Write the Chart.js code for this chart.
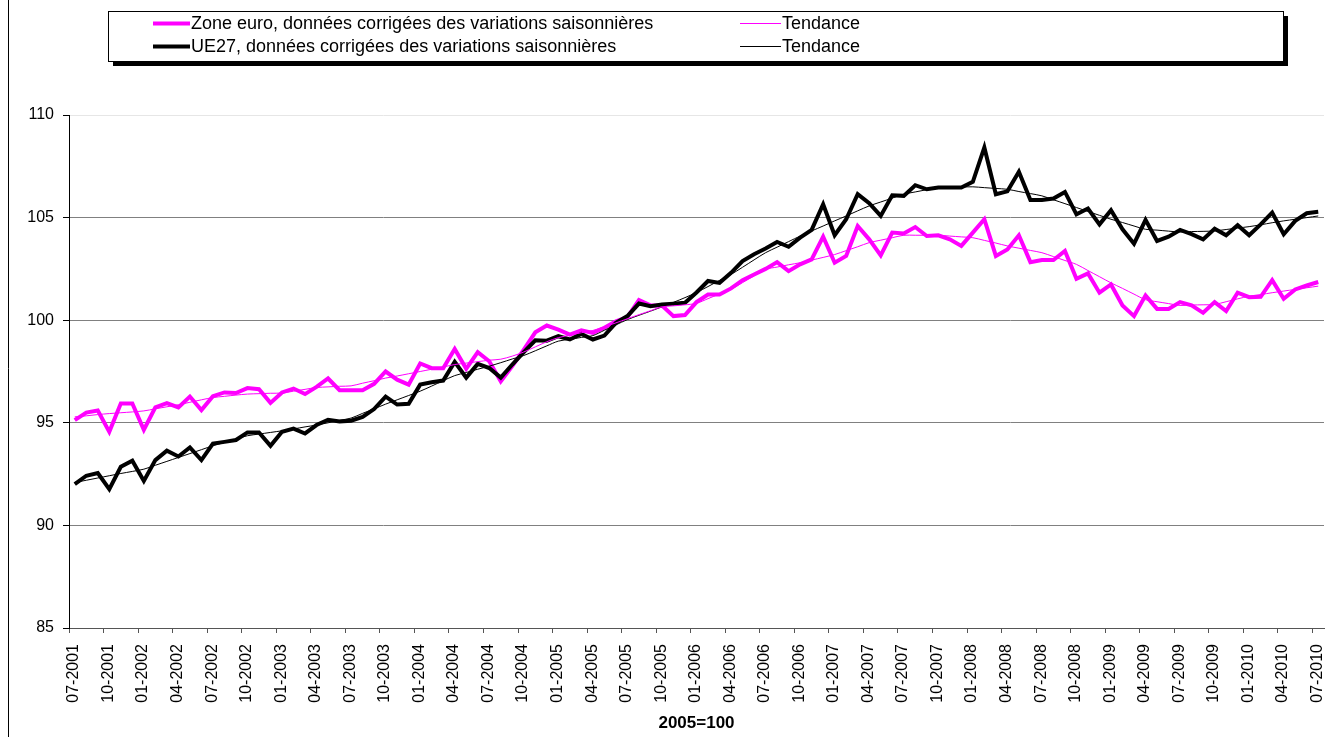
<!DOCTYPE html>
<html>
<head>
<meta charset="utf-8">
<title>Zone euro / UE27</title>
<script src="https://cdn.jsdelivr.net/npm/chart.js@4.4.1/dist/chart.umd.min.js"></script>
<style>
  html, body { margin: 0; padding: 0; background: #fff; }
  canvas { display: block; }
</style>
</head>
<body>
<canvas id="chart" width="1339" height="737"></canvas>
<script>
// tick labels, one every 3 months (07-2001 .. 07-2010)
const tickLabels = [
  '07-2001','10-2001','01-2002','04-2002','07-2002','10-2002','01-2003','04-2003','07-2003','10-2003',
  '01-2004','04-2004','07-2004','10-2004','01-2005','04-2005','07-2005','10-2005','01-2006','04-2006',
  '07-2006','10-2006','01-2007','04-2007','07-2007','10-2007','01-2008','04-2008','07-2008','10-2008',
  '01-2009','04-2009','07-2009','10-2009','01-2010','04-2010','07-2010'
];

// monthly values, 07-2001 .. 07-2010
const zoneEuro = [
  95.13, 95.50, 95.60, 94.56, 95.94, 95.94, 94.66, 95.75, 95.96, 95.75, 96.28, 95.62,
  96.30, 96.48, 96.45, 96.69, 96.64, 95.97, 96.48, 96.67, 96.40, 96.75, 97.16, 96.59,
  96.59, 96.59, 96.90, 97.50, 97.10, 96.86, 97.89, 97.66, 97.66, 98.60, 97.63, 98.44,
  98.00, 97.02, 97.76, 98.57, 99.41, 99.74, 99.54, 99.30, 99.51, 99.38, 99.63, 99.95,
  100.15, 100.98, 100.72, 100.72, 100.20, 100.25, 100.88, 101.25, 101.25, 101.55, 101.95, 102.23,
  102.50, 102.83, 102.39, 102.72, 102.96, 104.07, 102.80, 103.13, 104.59, 103.94, 103.16, 104.27,
  104.23, 104.54, 104.10, 104.14, 103.94, 103.62, 104.27, 104.92, 103.13, 103.45, 104.14, 102.83,
  102.93, 102.93, 103.37, 102.02, 102.28, 101.34, 101.74, 100.72, 100.20, 101.21, 100.55, 100.55,
  100.88, 100.72, 100.36, 100.88, 100.44, 101.34, 101.12, 101.14, 101.95, 101.04, 101.50, 101.69,
  101.86
];
const ue27 = [
  92.01, 92.42, 92.55, 91.77, 92.86, 93.15, 92.17, 93.18, 93.64, 93.36, 93.80, 93.18,
  93.99, 94.07, 94.16, 94.53, 94.53, 93.88, 94.56, 94.72, 94.48, 94.89, 95.15, 95.06,
  95.10, 95.29, 95.67, 96.28, 95.89, 95.93, 96.86, 96.98, 97.06, 97.97, 97.20, 97.87,
  97.67, 97.20, 97.84, 98.44, 99.02, 99.00, 99.22, 99.06, 99.33, 99.06, 99.25, 99.87,
  100.20, 100.81, 100.68, 100.76, 100.80, 100.85, 101.35, 101.91, 101.82, 102.31, 102.88, 103.21,
  103.49, 103.81, 103.58, 104.02, 104.40, 105.65, 104.14, 104.92, 106.14, 105.70, 105.08, 106.09,
  106.06, 106.58, 106.38, 106.47, 106.47, 106.47, 106.74, 108.42, 106.14, 106.28, 107.23, 105.86,
  105.86, 105.93, 106.25, 105.16, 105.44, 104.67, 105.36, 104.43, 103.73, 104.89, 103.86, 104.07,
  104.40, 104.19, 103.94, 104.46, 104.14, 104.63, 104.14, 104.67, 105.24, 104.19, 104.84, 105.21,
  105.28
];
const zoneEuroTrend = [
  95.29, 95.34, 95.40, 95.45, 95.49, 95.53, 95.58, 95.68, 95.78, 95.88, 96.00, 96.12,
  96.23, 96.29, 96.35, 96.40, 96.42, 96.44, 96.45, 96.54, 96.63, 96.72, 96.75, 96.78,
  96.80, 96.93, 97.05, 97.18, 97.28, 97.39, 97.50, 97.61, 97.72, 97.84, 97.91, 97.98,
  98.05, 98.10, 98.25, 98.45, 98.70, 98.95, 99.15, 99.27, 99.39, 99.50, 99.68, 99.87,
  100.07, 100.27, 100.46, 100.65, 100.70, 100.75, 100.82, 101.05, 101.28, 101.50, 101.83, 102.16,
  102.48, 102.59, 102.70, 102.80, 102.93, 103.06, 103.20, 103.39, 103.58, 103.78, 103.90, 104.02,
  104.14, 104.14, 104.14, 104.14, 104.10, 104.06, 104.02, 103.89, 103.76, 103.62, 103.51, 103.40,
  103.29, 103.10, 102.91, 102.72, 102.42, 102.12, 101.82, 101.55, 101.27, 101.00, 100.90, 100.81,
  100.72, 100.74, 100.75, 100.77, 100.90, 101.04, 101.17, 101.25, 101.34, 101.42, 101.50, 101.58,
  101.66
];
const ue27Trend = [
  92.09, 92.20, 92.31, 92.42, 92.53, 92.63, 92.74, 92.93, 93.12, 93.31, 93.50, 93.69,
  93.88, 94.04, 94.21, 94.37, 94.45, 94.53, 94.61, 94.70, 94.80, 94.89, 95.00, 95.12,
  95.23, 95.46, 95.68, 95.91, 96.12, 96.33, 96.54, 96.79, 97.05, 97.30, 97.45, 97.61,
  97.76, 97.93, 98.11, 98.28, 98.51, 98.75, 98.98, 99.07, 99.16, 99.25, 99.51, 99.77,
  100.03, 100.24, 100.44, 100.65, 100.87, 101.10, 101.35, 101.64, 101.94, 102.23, 102.58, 102.94,
  103.29, 103.56, 103.83, 104.10, 104.35, 104.59, 104.84, 105.08, 105.33, 105.57, 105.76, 105.95,
  106.14, 106.25, 106.36, 106.47, 106.48, 106.49, 106.50, 106.46, 106.42, 106.38, 106.27, 106.17,
  106.06, 105.87, 105.68, 105.49, 105.30, 105.11, 104.92, 104.76, 104.59, 104.43, 104.39, 104.34,
  104.30, 104.32, 104.33, 104.35, 104.42, 104.49, 104.56, 104.65, 104.75, 104.84, 104.92, 105.00,
  105.08
];

const FONT = '"Liberation Sans", Arial, sans-serif';
const MAGENTA = '#ff00ff';

// each month sits in the middle of its slot (Excel "between tick marks")
const toPoints = arr => arr.map((v, i) => ({ x: i + 0.5, y: v }));

// legend drawn by hand: two columns, two rows, with a drop shadow
const legendItems = [
  { text: 'Zone euro, données corrigées des variations saisonnières', color: MAGENTA, width: 4, col: 0, row: 0 },
  { text: 'Tendance', color: MAGENTA, width: 1, col: 1, row: 0 },
  { text: 'UE27, données corrigées des variations saisonnières', color: '#000', width: 4, col: 0, row: 1 },
  { text: 'Tendance', color: '#000', width: 1, col: 1, row: 1 }
];

const frameAndLegend = {
  id: 'frameAndLegend',
  beforeDraw(chart) {
    const c = chart.ctx;
    c.save();
    c.fillStyle = '#fff';
    c.fillRect(0, 0, chart.width, chart.height);
    c.restore();
  },
  afterDraw(chart) {
    const c = chart.ctx;
    c.save();
    // left border of the chart frame
    c.strokeStyle = '#000';
    c.lineWidth = 1;
    c.beginPath();
    c.moveTo(8.5, 0);
    c.lineTo(8.5, chart.height);
    c.stroke();

    // legend box + shadow
    const bx = 108, by = 11, bw = 1175, bh = 50;
    c.fillStyle = '#000';
    c.fillRect(bx + 5, by + 5, bw, bh);
    c.fillStyle = '#fff';
    c.fillRect(bx, by, bw, bh);
    c.strokeRect(bx + 0.5, by + 0.5, bw, bh);

    const colX = [153, 740];
    const colLen = [37, 41];
    const rowY = [23, 46];
    c.font = '18px ' + FONT;
    c.textBaseline = 'middle';
    c.textAlign = 'left';
    legendItems.forEach(it => {
      const x = colX[it.col], y = rowY[it.row];
      c.strokeStyle = it.color;
      c.lineWidth = it.width;
      c.beginPath();
      c.moveTo(x, y + 0.5);
      c.lineTo(x + colLen[it.col], y + 0.5);
      c.stroke();
      c.fillStyle = '#000';
      c.fillText(it.text, x + colLen[it.col] + 1, y + 1);
    });
    c.restore();
  }
};

new Chart(document.getElementById('chart').getContext('2d'), {
  type: 'line',
  data: {
    datasets: [
      { label: 'Tendance', data: toPoints(zoneEuroTrend), borderColor: MAGENTA, borderWidth: 1, tension: 0.3, order: 0 },
      { label: 'Tendance', data: toPoints(ue27Trend), borderColor: '#000', borderWidth: 1, tension: 0.3, order: 0 },
      { label: 'UE27, données corrigées des variations saisonnières', data: toPoints(ue27), borderColor: '#000', borderWidth: 4, order: 1 },
      { label: 'Zone euro, données corrigées des variations saisonnières', data: toPoints(zoneEuro), borderColor: MAGENTA, borderWidth: 4, order: 2 }
    ]
  },
  options: {
    responsive: false,
    animation: false,
    devicePixelRatio: 1,
    layout: { padding: { left: 0, right: 15, top: 115, bottom: 0 } },
    elements: { point: { radius: 0 }, line: { tension: 0, borderJoinStyle: 'miter', borderCapStyle: 'butt' } },
    plugins: { legend: { display: false }, tooltip: { enabled: false } },
    scales: {
      x: {
        type: 'linear',
        min: 0,
        max: 109,
        afterBuildTicks: s => { s.ticks = tickLabels.map((_, k) => ({ value: k * 3 })); },
        afterFit: s => { s.height = 109; s.paddingLeft = 0; s.paddingRight = 0; },
        border: { color: '#555' },
        grid: { drawOnChartArea: false, tickLength: 5, color: '#555' },
        ticks: {
          autoSkip: false, minRotation: 90, maxRotation: 90, labelOffset: 5, padding: 11,
          color: '#000', font: { family: FONT, size: 16 },
          callback: v => tickLabels[v / 3]
        },
        title: {
          display: true, text: '2005=100', color: '#000',
          font: { family: FONT, size: 17, weight: 'bold' },
          padding: { top: 0, bottom: 3 }
        }
      },
      y: {
        min: 85,
        max: 110,
        afterFit: s => { s.width = 69; s.paddingTop = 0; s.paddingBottom = 0; },
        border: { color: '#000' },
        grid: {
          color: ctx => (ctx.tick && ctx.tick.value === 110) ? '#e6e6e6' : '#808080',
          tickColor: '#000',
          tickLength: 6
        },
        ticks: { stepSize: 5, padding: 9, color: '#000', font: { family: FONT, size: 16 } }
      }
    }
  },
  plugins: [frameAndLegend]
});
</script>
</body>
</html>
